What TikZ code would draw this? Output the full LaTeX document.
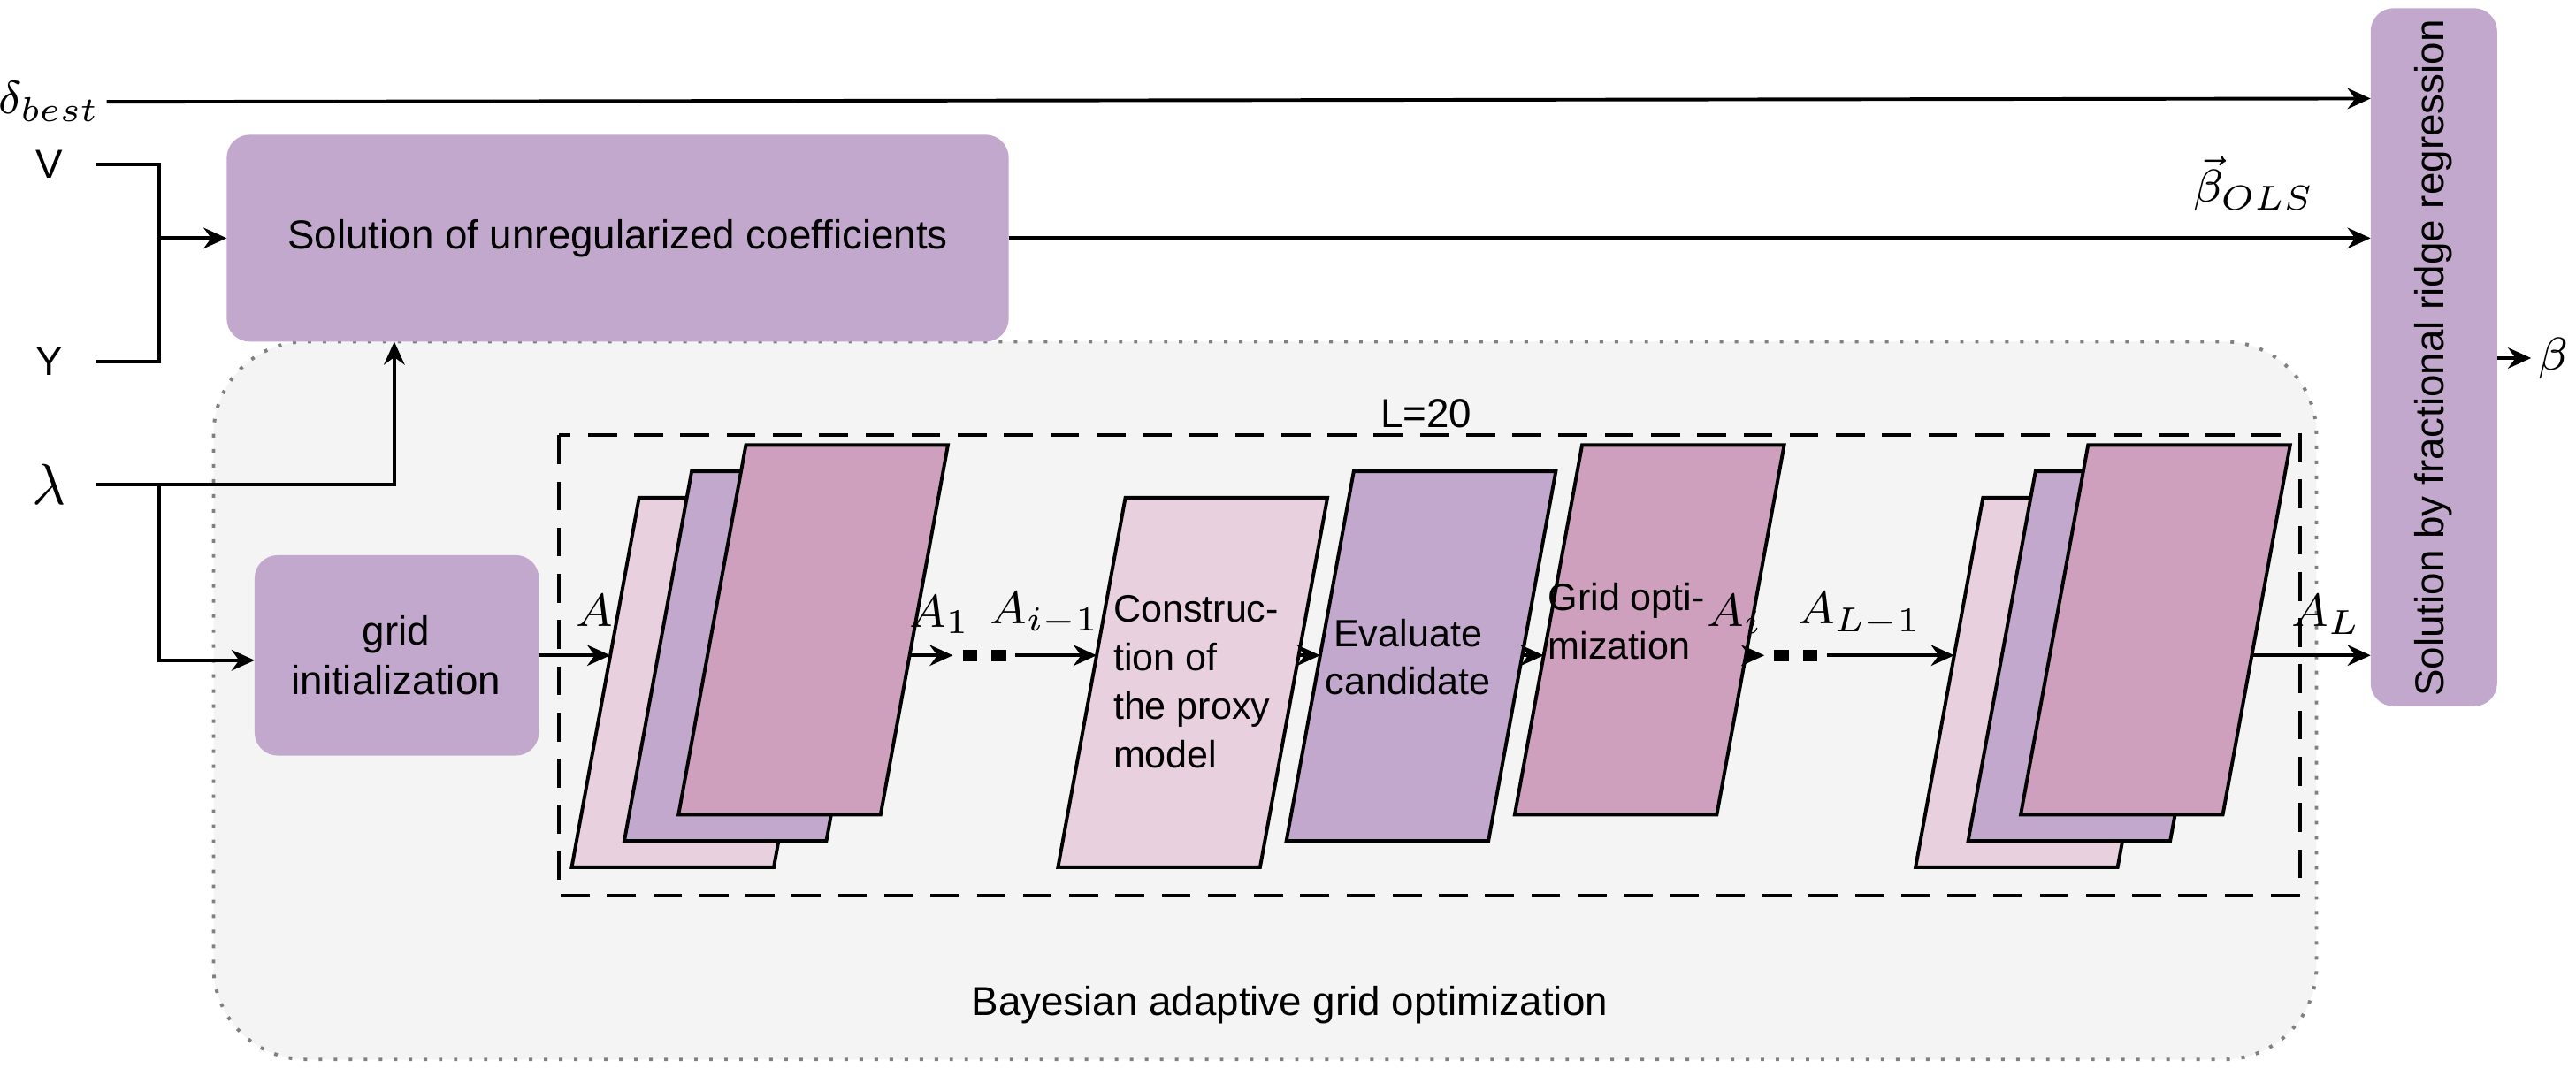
\documentclass[tikz,border=0pt]{standalone}
\usepackage{fontspec}
\setmainfont{Liberation Sans}
\usetikzlibrary{arrows.meta}
\definecolor{cL}{HTML}{E8D0DF}
\definecolor{cP}{HTML}{C3A8CE}
\definecolor{cD}{HTML}{CEA0BD}
\definecolor{bgc}{HTML}{F4F4F4}
\newcommand\plg[4]{%
  \filldraw[fill=#4,line width=0.6pt] (#2,#3) -- ++(123,0) -- ++(41,-225) -- ++(-123,0) -- cycle;
  \coordinate (#1w) at ({#2+41*(#3-399)/225},399);
  \coordinate (#1e) at ({#2+123+41*(#3-399)/225},399);
  \coordinate (#1c) at ({#2+61+41*(#3-399)/225},399);}
\begin{document}
\begin{tikzpicture}[x=0.01cm,y=-0.01cm,
  font=\fontsize{7}{8.6}\selectfont,
  ln/.style={line width=0.6pt},
  ar/.style={line width=0.6pt,-{Stealth[length=4pt,width=3.6pt]}},
  box/.style={fill=cP,rounded corners=4pt,draw=none,inner sep=0pt},
  lab/.style={inner sep=1pt},
  pl/.style={inner sep=1pt,font=\fontsize{6.6}{8.4}\selectfont},
  mth/.style={inner sep=1pt,font=\fontsize{8.5}{9}\selectfont}]
\useasboundingbox[fill=white] (0,0) rectangle (1568,655);
% container
\filldraw[fill=bgc,draw=gray,dotted,line width=0.6pt,rounded corners=16pt] (130,208) rectangle (1410,645);
\node[lab] (bay) at (785,612) {Bayesian adaptive grid optimization};
% boxes
\path[box] (138,82) rectangle (614,208);
\node[lab] (sol) at (376,145) {Solution of unregularized coefficients};
\coordinate (solW) at (138,145); \coordinate (solE) at (614,145); \coordinate (solS) at (240,208);
\path[box] (1443,5) rectangle (1520,430);
\node[lab,rotate=90] (rr) at (1481,218) {Solution by fractional ridge regression};
\coordinate (rrW1) at (1443,60); \coordinate (rrW2) at (1443,145); \coordinate (rrW3) at (1443,399); \coordinate (rrE) at (1520,218);
\path[box] (155,338) rectangle (328,460);
\node[lab,align=center] (gi) at (241,399) {grid\\initialization};
\coordinate (giW) at (155,402); \coordinate (giE) at (328,399);
% inputs
\node[mth] (db) at (30,62) {$\delta_{best}$};
\node[lab] (V) at (30,100) {V};
\node[lab] (Y) at (30,220) {Y};
\node[mth,font=\fontsize{10}{10}\selectfont] (lam) at (30,295) {$\lambda$};
\node[mth] (beta) at (1554,218) {$\beta$};
\node[mth] at (1372,112) {$\vec\beta_{OLS}$};
\draw[ar] (db.east) -- (rrW1);
\draw[ln] (58,100) -- (97,100) -- (97,220) -- (58,220);
\coordinate (j) at (97,145);
\draw[ar] (j) -- (solW);
\draw[ar] (solE) -- (rrW2);
\draw[ar] (58,295) -- (240,295) -- (solS);
\draw[ar] (97,295) -- (97,402) -- (giW);
\draw[ar] (rrE) -- (beta.west);
% dashed
\draw[line width=0.6pt,dash pattern=on 5pt off 3pt] (340,265) rectangle (1400,545);
\node[lab] (L) at (868,252) {L=20};
% stacks
\plg{a1}{348}{528}{cL}\plg{a2}{380}{512}{cP}\plg{a3}{413}{496}{cD}
\plg{c}{644}{528}{cL}\plg{e}{783}{512}{cP}\plg{g}{922}{496}{cD}
\plg{b1}{1166}{528}{cL}\plg{b2}{1198}{512}{cP}\plg{b3}{1230}{496}{cD}
\node[pl,align=left] at (728,415) {Construc-\\tion of\\the proxy\\model};
\node[pl,align=center] at (857,400) {Evaluate\\candidate};
\node[pl,align=left] at (990,378) {Grid opti-\\mization};
% chain
\draw[ar] (giE) -- (a1w);
\node[mth] at (362,372) {$A$};
\coordinate (d1) at (580,399); \coordinate (d2) at (618,399);
\draw[ar] (a3e) -- (d1);
\draw[line width=2pt,dash pattern=on 2.5pt off 2.5pt] (586,399) -- (617,399);
\draw[ar] (d2) -- (cw);
\node[mth] at (572,374) {$A_1$};
\node[mth] at (636,374) {$A_{i-1}$};
\draw[ar] (ce) -- (ew);
\draw[ar] (ee) -- (gw);
\coordinate (d3) at (1074,399); \coordinate (d4) at (1112,399);
\draw[ar] (ge) -- (d3);
\draw[line width=2pt,dash pattern=on 2.5pt off 2.5pt] (1080,399) -- (1110,399);
\draw[ar] (d4) -- (b1w);
\node[mth] at (1056,374) {$A_i$};
\node[mth] at (1132,374) {$A_{L-1}$};
\draw[ar] (b3e) -- (rrW3);
\node[mth] at (1416,374) {$A_L$};
\end{tikzpicture}
\end{document}
